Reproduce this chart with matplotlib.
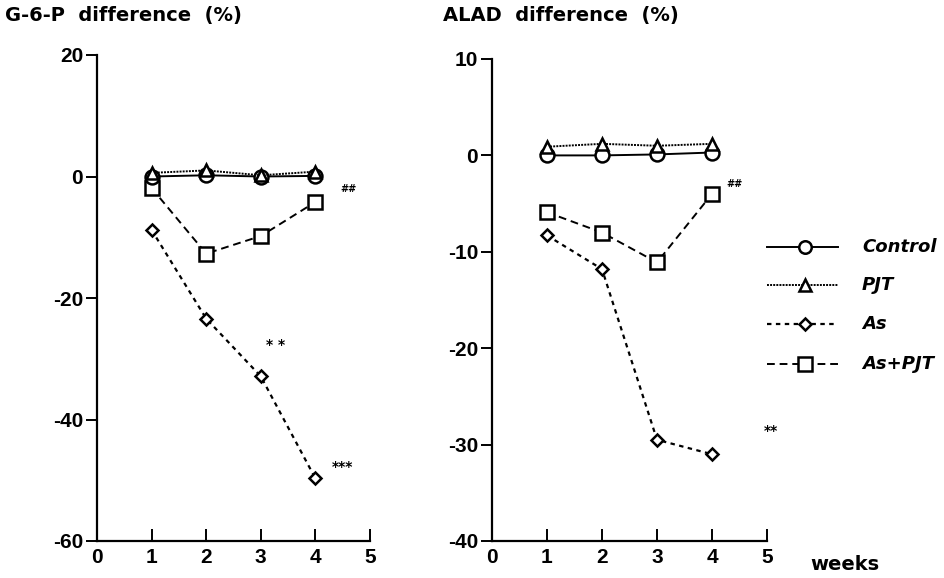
import matplotlib
matplotlib.use("Agg")
import matplotlib.pyplot as plt
from matplotlib.lines import Line2D

weeks = [1, 2, 3, 4]

# G-6-P difference (%)
g6p_control = [0.0, 0.2, 0.0, 0.1]
g6p_pjt = [0.6, 1.0, 0.2, 0.8]
g6p_as = [-8.8, -23.4, -32.9, -49.7]
g6p_as_pjt = [-1.9, -12.7, -9.8, -4.2]

# ALAD difference (%)
alad_control = [0.0, 0.0, 0.1, 0.3]
alad_pjt = [0.9, 1.2, 1.0, 1.2]
alad_as = [-8.3, -11.8, -29.5, -31.0]
alad_as_pjt = [-5.9, -8.0, -11.1, -4.0]

series_names = ["Control", "PJT", "As", "As+PJT"]
xticks = [0, 1, 2, 3, 4, 5]
g6p_yticks = [20, 0, -20, -40, -60]
alad_yticks = [10, 0, -10, -20, -30, -40]

W, H = 944, 578
fig = plt.figure(figsize=(W / 100, H / 100), dpi=100)

def ax_at(x0, x1, ytop, ybot):
    return fig.add_axes([x0 / W, 1 - ybot / H, (x1 - x0) / W, (ybot - ytop) / H])

styles = {
    "Control": dict(ls="-", marker="o", ms=10, lw=1.4),
    "PJT": dict(ls=(0, (1, 0.6)), marker="^", ms=9, lw=1.4),
    "As": dict(ls=(0, (2, 2)), marker="D", ms=6.5, lw=1.6),
    "As+PJT": dict(ls=(0, (4, 2.5)), marker="s", ms=10.5, lw=1.4),
}

tick_font = dict(family=["Liberation Sans Narrow", "Liberation Sans", "DejaVu Sans"], weight="bold", size=15)

def style_axes(ax, ylim, yticks):
    ax.set_xlim(0, 5)
    ax.set_ylim(*ylim)
    for s in ["top", "right"]:
        ax.spines[s].set_visible(False)
    ax.spines["left"].set_linewidth(1.6)
    ax.spines["bottom"].set_linewidth(1.6)
    ax.set_xticks(xticks)
    ax.set_yticks(yticks)
    ax.set_xticklabels([str(t) for t in xticks], fontdict=tick_font)
    ax.set_yticklabels([str(t) for t in yticks], fontdict=tick_font)
    ax.tick_params(axis="y", direction="out", length=8, width=1.4, pad=2)
    ax.tick_params(axis="x", direction="in", length=9, width=1.4, pad=5)

def draw(ax, data):
    for name, vals in zip(series_names, data):
        st = styles[name]
        ax.plot(weeks, vals, color="black", linestyle=st["ls"], lw=st["lw"],
                marker=st["marker"], ms=st["ms"], mfc="white", mec="black",
                mew=1.8, zorder=3 if name in ("Control", "PJT") else 2, clip_on=False)

ax1 = ax_at(97, 370, 55, 541)
style_axes(ax1, (-60, 20), g6p_yticks)
draw(ax1, [g6p_control, g6p_pjt, g6p_as, g6p_as_pjt])

ax2 = ax_at(492, 767, 59, 541)
style_axes(ax2, (-40, 10), alad_yticks)
draw(ax2, [alad_control, alad_pjt, alad_as, alad_as_pjt])

ann_font = dict(fontsize=10, fontweight="bold", family="DejaVu Sans")
ax1.annotate("* *", (3, g6p_as[2]), xytext=(4, 20), textcoords="offset points", **ann_font)
ax1.annotate("***", (4, g6p_as[3]), xytext=(12, 5), textcoords="offset points", **ann_font)
ax1.annotate("##", (4, g6p_as_pjt[3]), xytext=(18, 7), textcoords="offset points", fontsize=7, fontweight="bold")
ax2.annotate("##", (4, alad_as_pjt[3]), xytext=(10, 5), textcoords="offset points", fontsize=7, fontweight="bold")
ax2.annotate("**", (4, alad_as[3]), xytext=(37, 14), textcoords="offset points", **ann_font)

title_font = dict(family=["DejaVu Sans"], weight="bold", size=14)
fig.text(5 / W, 1 - 15 / H, "G-6-P  difference  (%)", ha="left", va="center", **title_font)
fig.text(443 / W, 1 - 15 / H, "ALAD  difference  (%)", ha="left", va="center", **title_font)
fig.text(810 / W, 1 - 564 / H, "weeks", ha="left", va="center", **title_font)

# Legend
legend_rows = [247, 285, 324, 364]
leg_font = dict(family=["DejaVu Sans"], weight="bold", style="italic", size=13)
for name, yrow in zip(series_names, legend_rows):
    st = styles[name]
    yy = 1 - yrow / H
    fig.add_artist(Line2D([767 / W, 838 / W], [yy, yy], transform=fig.transFigure,
                          color="black", linestyle=st["ls"], lw=st["lw"]))
    fig.add_artist(Line2D([805 / W], [yy], transform=fig.transFigure, color="black",
                          marker=st["marker"], ms=st["ms"] * 0.9, mfc="white", mec="black", mew=1.8))
    fig.text(862 / W, yy, name, ha="left", va="center", **leg_font)

fig.savefig("out.png", dpi=100)
